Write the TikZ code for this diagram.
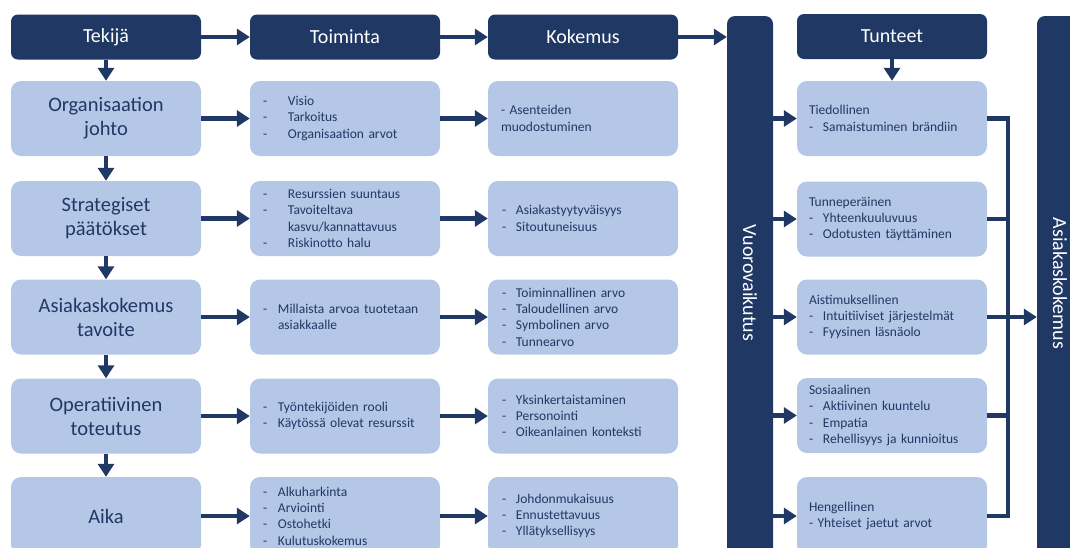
\documentclass[tikz,border=0pt]{standalone}
\usepackage{fontspec}
\setmainfont{Carlito}
\usetikzlibrary{arrows.meta,calc}
\definecolor{navy}{HTML}{203864}
\definecolor{lblue}{HTML}{B4C7E7}
\newcommand{\di}[2]{\makebox[#1][l]{-}#2}
\begin{document}
\begin{tikzpicture}[x=1pt,y=-1pt,
  hdr/.style={fill=navy, rounded corners=7pt, minimum width=190pt, minimum height=45pt, text=white, font=\fontsize{20}{24}\selectfont, inner sep=0pt},
  lb/.style={fill=lblue, rounded corners=10pt, minimum width=190pt, minimum height=75pt, text=navy, inner ysep=0pt},
  big/.style={lb, font=\fontsize{20.5}{24}\selectfont, align=center, inner xsep=0pt},
  smA/.style={lb, font=\fontsize{13.5}{16.3}\selectfont, align=left, inner xsep=13pt, text width=164pt},
  smB/.style={lb, font=\fontsize{13.5}{16.3}\selectfont, align=left, inner xsep=14pt, text width=162pt},
  smC/.style={lb, font=\fontsize{13.5}{16.3}\selectfont, align=left, inner xsep=12pt, text width=166pt},
  bar/.style={fill=navy, rounded corners=8pt, minimum width=46pt, minimum height=560pt, inner sep=0pt},
  vtext/.style={text=white, rotate=-90, font=\fontsize{20}{24}\selectfont},
  arr/.style={draw=navy, line width=4.5pt, -{Triangle[length=13pt,width=16pt]}},
  conn/.style={draw=navy, line width=4.5pt, line join=miter}]
\useasboundingbox (0,0) rectangle (1070,547);
\clip (0,0) rectangle (1070,547);

% headers
\node[hdr] (tek) at (106,37) {Tekijä};
\node[hdr] (toi) at (345,37) {Toiminta};
\node[hdr] (kok) at (583,37) {Kokemus};
\node[hdr] (tun) at (892,36.5) {Tunteet};

% bars
\node[bar] (vv) at (750,296) {};
\node[vtext] (vvt) at (750,283) {Vuorovaikutus};
\node[bar] (as) at (1060,296) {};
\node[vtext] (ast) at (1060,283.5) {Asiakaskokemus};

% column 1
\node[big] (a1) at (106,118.5) {Organisaation\\johto};
\node[big] (a2) at (106,218.5) {Strategiset\\päätökset};
\node[big] (a3) at (106,317) {Asiakaskokemus\\tavoite};
\node[big] (a4) at (106,416) {Operatiivinen\\toteutus};
\node[big, minimum height=78pt] (a5) at (106,516) {Aika};

% column 2
\node[smA] (b1) at (345,118.5) {\di{25pt}{Visio}\\\di{25pt}{Tarkoitus}\\\di{25pt}{Organisaation arvot}};
\node[smA] (b2) at (345,218.5) {\di{25pt}{Resurssien suuntaus}\\\di{25pt}{Tavoiteltava}\\\hspace*{25pt}kasvu/kannattavuus\\\di{25pt}{Riskinotto halu}};
\node[smA] (b3) at (345,317) {\di{15pt}{Millaista arvoa tuotetaan}\\\hspace*{15pt}asiakkaalle};
\node[smA] (b4) at (345,416) {\di{15pt}{Työntekijöiden rooli}\\\di{15pt}{Käytössä olevat resurssit}};
\node[smA, minimum height=78pt] (b5) at (345,516) {\di{15pt}{Alkuharkinta}\\\di{15pt}{Arviointi}\\\di{15pt}{Ostohetki}\\\di{15pt}{Kulutuskokemus}};

% column 3
\node[smA] (c1) at (583,118.5) {- Asenteiden\\muodostuminen};
\node[smB] (c2) at (583,218.5) {\di{14pt}{Asiakastyytyväisyys}\\\di{14pt}{Sitoutuneisuus}};
\node[smB] (c3) at (583,317) {\di{14pt}{Toiminnallinen arvo}\\\di{14pt}{Taloudellinen arvo}\\\di{14pt}{Symbolinen arvo}\\\di{14pt}{Tunnearvo}};
\node[smB] (c4) at (583,416) {\di{14pt}{Yksinkertaistaminen}\\\di{14pt}{Personointi}\\\di{14pt}{Oikeanlainen konteksti}};
\node[smB, minimum height=78pt] (c5) at (583,516) {\di{14pt}{Johdonmukaisuus}\\\di{14pt}{Ennustettavuus}\\\di{14pt}{Yllätyksellisyys}};

% tunteet
\node[smC] (t1) at (892,118.5) {Tiedollinen\\\di{14pt}{Samaistuminen brändiin}};
\node[smC] (t2) at (892,219) {Tunneperäinen\\\di{14pt}{Yhteenkuuluvuus}\\\di{14pt}{Odotusten täyttäminen}};
\node[smC] (t3) at (892,317) {Aistimuksellinen\\\di{14pt}{Intuitiiviset järjestelmät}\\\di{14pt}{Fyysinen läsnäolo}};
\node[smC] (t4) at (892,415.5) {Sosiaalinen\\\di{14pt}{Aktiivinen kuuntelu}\\\di{14pt}{Empatia}\\\di{14pt}{Rehellisyys ja kunnioitus}};
\node[smC, minimum height=78pt] (t5) at (892,516) {Hengellinen\\- Yhteiset jaetut arvot};

% header arrows
\draw[arr] (tek.east) -- (toi.west);
\draw[arr] (toi.east) -- (kok.west);
\draw[arr] (kok.east) -- (kok.east -| vv.west);
\draw[arr] (tun.south) -- (t1.north);

% column 1 vertical arrows
\draw[arr] (tek.south) -- (a1.north);
\draw[arr] (a1.south) -- (a2.north);
\draw[arr] (a2.south) -- (a3.north);
\draw[arr] (a3.south) -- (a4.north);
\draw[arr] (a4.south) -- (a5.north);

% row arrows
\foreach \i in {1,...,5}{
  \draw[arr] (a\i.east) -- (b\i.west);
  \draw[arr] (b\i.east) -- (c\i.west);
  \draw[arr] (t\i.west -| vv.east) -- (t\i.west);
}

% bus to Asiakaskokemus
\coordinate (bus) at (1008,0);
\draw[conn] (t1.east) -- (t1.east -| bus) -- (t5.east -| bus) -- (t5.east);
\draw[conn] (t2.east) -- (t2.east -| bus);
\draw[conn] (t4.east) -- (t4.east -| bus);
\draw[arr] (t3.east) -- (t3.east -| as.west);
\end{tikzpicture}
\end{document}
